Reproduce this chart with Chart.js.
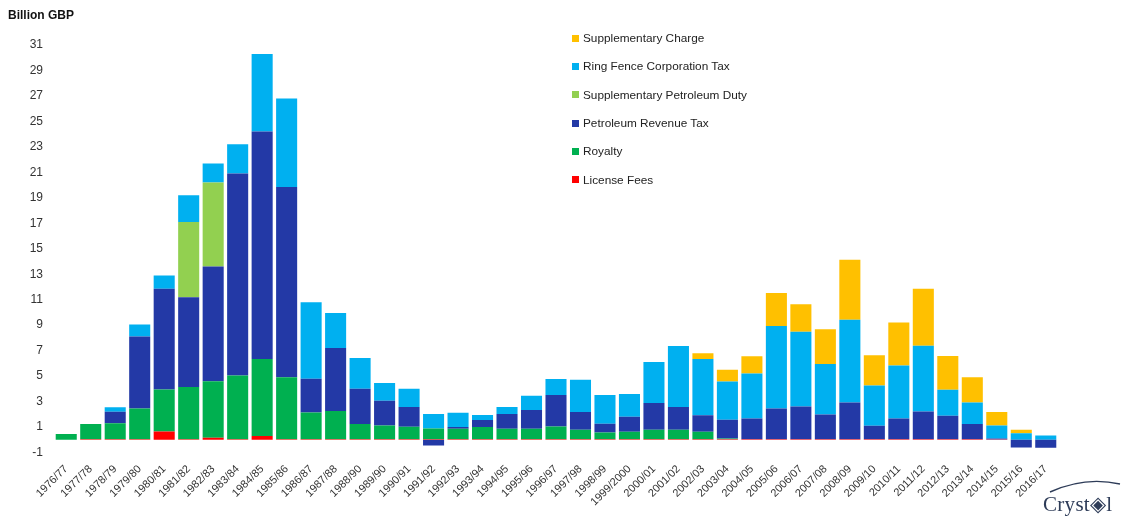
<!DOCTYPE html>
<html>
<head>
<meta charset="utf-8">
<script src="https://cdn.jsdelivr.net/npm/chart.js@4.4.0/dist/chart.umd.min.js"></script>
<style>
  body { margin: 0; background: #fff; font-family: "Liberation Sans", Arial, sans-serif; }
  #wrap { position: relative; width: 1124px; height: 516px; overflow: hidden; }
  #unit { position: absolute; left: 8px; top: 8px; font-weight: bold; font-size: 12px; color: #111; }
  #legend { position: absolute; left: 572px; top: 24px; }
  .item { height: 28.3px; display: flex; align-items: center; font-size: 11.8px; color: #222; white-space: nowrap; }
  .sw { width: 7px; height: 7px; margin-right: 4px; flex: none; }
  #logo { position: absolute; left: 1040px; top: 474px; width: 100px; height: 44px; }
  #logo span { position: absolute; left: 3px; top: 18px; font-family: "Liberation Serif", serif; font-size: 21px; color: #2e3c58; letter-spacing: 0.3px; }
</style>
</head>
<body>
<div id="wrap">
  <canvas id="c" width="1124" height="516"></canvas>
  <div id="unit">Billion GBP</div>
  <div id="legend"></div>
  <div id="logo">
    <svg width="100" height="24" style="position:absolute;left:0;top:0">
      <path d="M10 18 Q 45 2 80 10" stroke="#2e3c58" stroke-width="1.4" fill="none"/>
    </svg>
    <span>Cryst&#9672;l</span>
  </div>
</div>
<script>
// Fiscal years
const years = ["1976/77","1977/78","1978/79","1979/80","1980/81","1981/82","1982/83","1983/84","1984/85","1985/86",
  "1986/87","1987/88","1988/90","1989/90","1990/91","1991/92","1992/93","1993/94","1994/95","1995/96",
  "1996/97","1997/98","1998/99","1999/2000","2000/01","2001/02","2002/03","2003/04","2004/05","2005/06",
  "2006/07","2007/08","2008/09","2009/10","2010/11","2011/12","2012/13","2013/14","2014/15","2015/16","2016/17"];

// Receipts by tax, billion GBP
const licenseFees = [0,0.05,0.05,0.05,0.65,0.05,0.15,0.05,0.3,0.05,
  0.05,0.05,0.05,0.05,0.05,0.05,0.05,0.05,0.05,0.05,
  0.05,0.05,0.05,0.05,0.05,0.05,0.05,0.05,0.05,0.05,
  0.05,0.05,0.05,0.05,0.05,0.05,0.05,0.05,0.03,0,0];
const royalty = [0.45,1.18,1.25,2.4,3.3,4.1,4.45,5.0,6.05,4.85,
  2.1,2.2,1.18,1.07,0.98,0.84,0.81,0.95,0.81,0.81,
  1.0,0.74,0.52,0.58,0.74,0.74,0.58,0.05,0,0,
  0,0,0,0,0,0,0,0,0,0,0];
const petroleumRevenueTax = [0,0,0.9,5.65,7.9,7.05,9.0,15.85,17.85,14.95,
  2.65,4.95,2.77,1.95,1.54,-0.45,0.14,0.55,1.16,1.47,
  2.46,1.39,0.69,1.18,2.1,1.78,1.3,1.47,1.62,2.41,
  2.57,1.94,2.88,1.05,1.62,2.17,1.84,1.18,0.07,-0.6,-0.62];
const supplementaryPetroleumDuty = [0,0,0,0,0,5.9,6.6,0,0,0,
  0,0,0,0,0,0,0,0,0,0,
  0,0,0,0,0,0,0,0,0,0,
  0,0,0,0,0,0,0,0,0,0,0];
const ringFenceCorporationTax = [0,0,0.35,0.95,1.05,2.1,1.5,2.3,6.1,6.95,
  6.0,2.75,2.42,1.39,1.43,1.13,1.12,0.39,0.55,1.13,
  1.26,2.54,2.25,1.78,3.22,4.8,4.42,3.01,3.54,6.48,
  5.87,3.95,6.5,3.17,4.17,5.17,2.04,1.7,1.02,0.52,0.34];
const supplementaryCharge = [0,0,0,0,0,0,0,0,0,0,
  0,0,0,0,0,0,0,0,0,0,
  0,0,0,0,0,0,0.45,0.92,1.34,2.59,
  2.15,2.73,4.7,2.36,3.36,4.46,2.65,1.97,1.06,0.27,0];

// Y axis ticks
const yMin = -1, yMax = 31, yStep = 2;

const series = [
  { label: "License Fees", data: licenseFees, color: "#FF0000" },
  { label: "Royalty", data: royalty, color: "#00B050" },
  { label: "Petroleum Revenue Tax", data: petroleumRevenueTax, color: "#2339A6" },
  { label: "Supplementary Petroleum Duty", data: supplementaryPetroleumDuty, color: "#92D050" },
  { label: "Ring Fence Corporation Tax", data: ringFenceCorporationTax, color: "#00B0F0" },
  { label: "Supplementary Charge", data: supplementaryCharge, color: "#FFC000" }
];

// Legend, top entry = top of the stack
const legend = document.getElementById("legend");
series.slice().reverse().forEach(s => {
  const d = document.createElement("div");
  d.className = "item";
  d.innerHTML = '<span class="sw" style="background:' + s.color + '"></span>' + s.label;
  legend.appendChild(d);
});

new Chart(document.getElementById("c"), {
  type: "bar",
  data: {
    labels: years,
    datasets: series.map(s => ({
      label: s.label,
      data: s.data,
      backgroundColor: s.color,
      borderWidth: 0,
      barPercentage: 0.86,
      categoryPercentage: 1.0
    }))
  },
  options: {
    responsive: false,
    animation: false,
    layout: { padding: { left: 0, right: 66, top: 45, bottom: 0 } },
    plugins: { legend: { display: false }, tooltip: { enabled: false } },
    scales: {
      x: {
        stacked: true,
        grid: { display: false },
        border: { display: false },
        ticks: {
          maxRotation: 45, minRotation: 45, autoSkip: false, padding: 2,
          color: "#333", font: { family: "'Liberation Sans', Arial, sans-serif", size: 11 }
        },
        afterFit: s => { s.height = 63.5; }
      },
      y: {
        stacked: true,
        min: yMin, max: yMax,
        grid: { display: false },
        border: { display: false },
        ticks: {
          stepSize: yStep, padding: 3,
          color: "#333", font: { family: "'Liberation Sans', Arial, sans-serif", size: 12 }
        },
        afterFit: s => { s.width = 54; }
      }
    }
  }
});
</script>
</body>
</html>
